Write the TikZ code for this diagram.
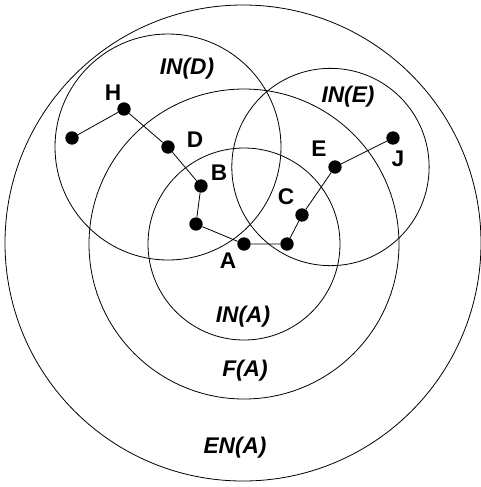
\documentclass[tikz,border=0pt]{standalone}
\usepackage{fontspec}
\setmainfont{Liberation Sans}
\usepackage{tikz}

\begin{document}
\begin{tikzpicture}[x=0.75pt,y=-0.75pt,
  dot/.style={circle,fill=black,inner sep=0pt,minimum size=10pt},
  ring/.style={line width=0.6pt},
  link/.style={line width=0.6pt},
  vname/.style={font=\fontsize{17}{20}\selectfont\bfseries,inner sep=0pt},
  setname/.style={font=\fontsize{17}{20}\selectfont\bfseries\itshape,inner sep=0pt}]
\useasboundingbox (0,0) rectangle (481,487);
% vertices
\node[dot] (hl) at (72,138) {};
\node[dot] (h)  at (124,109) {};
\node[dot] (d)  at (168,147) {};
\node[dot] (b)  at (201,186) {};
\node[dot] (bl) at (196,224) {};
\node[dot] (a)  at (244,244) {};
\node[dot] (ar) at (287,244) {};
\node[dot] (c)  at (302,215) {};
\node[dot] (e)  at (335,167) {};
\node[dot] (j)  at (393,138) {};
% neighbourhoods
\draw[ring] (243,243) circle (178.5pt);
\draw[ring] (a) circle (116.25pt);
\draw[ring] (a) circle (72pt);
\draw[ring] (d) circle (84.75pt);
\draw[ring] ([xshift=-3.4pt]e.center) circle (74pt);
% path
\draw[link] (hl) -- (h) -- (d) -- (b) -- (bl) -- (a) -- (ar) -- (c) -- (e) -- (j);
% vertex names
\node[vname] (lh) at (113,93) {H};
\node[vname] (ld) at (195,140) {D};
\node[vname] (lb) at (219,173) {B};
\node[vname] (lc) at (286,197) {C};
\node[vname] (la) at (228,261) {A};
\node[vname] (le) at (319,149) {E};
\node[vname] (lj) at (398,159) {J};
% set names
\node[setname] (nd) at (187,69) {IN(D)};
\node[setname] (ne) at (348,97) {IN(E)};
\node[setname] (na) at (243,317) {IN(A)};
\node[setname] (fa) at (245,371) {F(A)};
\node[setname] (ea) at (235,448) {EN(A)};
\end{tikzpicture}
\end{document}
